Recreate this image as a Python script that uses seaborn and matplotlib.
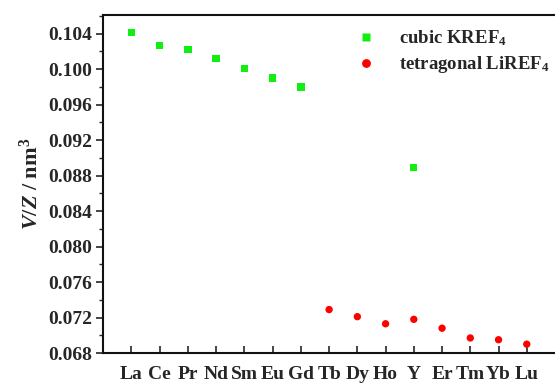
import matplotlib
matplotlib.use('Agg')
import matplotlib.pyplot as plt
import seaborn as sns
import pandas as pd
from matplotlib.ticker import MultipleLocator

# element labels along x
elements = ['La', 'Ce', 'Pr', 'Nd', 'Sm', 'Eu', 'Gd', 'Tb', 'Dy', 'Ho', 'Y', 'Er', 'Tm', 'Yb', 'Lu']

# cubic KREF4
cubic_el = ['La', 'Ce', 'Pr', 'Nd', 'Sm', 'Eu', 'Gd', 'Y']
cubic_v = [0.1041, 0.1027, 0.1022, 0.1012, 0.1001, 0.0990, 0.0980, 0.0889]

# tetragonal LiREF4
tetra_el = ['Tb', 'Dy', 'Ho', 'Y', 'Er', 'Tm', 'Yb', 'Lu']
tetra_v = [0.0729, 0.0721, 0.0713, 0.0718, 0.0708, 0.0697, 0.0695, 0.0690]

lab_cubic = r'cubic KREF$_\mathbf{4}$'
lab_tetra = r'tetragonal LiREF$_\mathbf{4}$'

df = pd.concat([
    pd.DataFrame({'el': cubic_el, 'v': cubic_v, 'phase': lab_cubic}),
    pd.DataFrame({'el': tetra_el, 'v': tetra_v, 'phase': lab_tetra}),
])
df['pos'] = [elements.index(e) for e in df['el']]

sns.set_style('ticks')
plt.rcParams['font.family'] = ['Liberation Serif', 'DejaVu Serif']
plt.rcParams['font.weight'] = 'bold'
plt.rcParams['mathtext.fontset'] = 'custom'
plt.rcParams['mathtext.rm'] = 'Liberation Serif:bold'
plt.rcParams['mathtext.bf'] = 'Liberation Serif:bold'
plt.rcParams['mathtext.it'] = 'Liberation Serif:bold:italic'

fig = plt.figure(figsize=(5.55, 3.85), dpi=100)
ax = fig.add_axes([0.186, 0.083, 0.814, 0.878])

sns.scatterplot(data=df, x='pos', y='v', hue='phase', style='phase',
                palette={lab_cubic: '#11ee11', lab_tetra: '#ff0000'},
                markers={lab_cubic: 's', lab_tetra: 'o'},
                s=28, edgecolor='none', ax=ax)

ax.set_xlim(-1, 15)
ax.set_xticks(range(len(elements)))
ax.set_xticklabels(elements, fontsize=14, fontweight='bold')
ax.yaxis.set_major_locator(MultipleLocator(0.004))
ax.yaxis.set_minor_locator(MultipleLocator(0.002))
ax.set_ylim(0.068, 0.1061)
ax.set_yticks(ax.get_yticks())
ax.set_yticklabels([f'{t:.3f}' for t in ax.get_yticks()], fontsize=14, fontweight='bold')
ax.set_ylim(0.068, 0.1061)
ax.tick_params(axis='x', direction='in', length=5, width=1.2, pad=9)
ax.tick_params(axis='y', which='major', direction='out', length=5, width=1.2, pad=3)
ax.tick_params(axis='y', which='minor', direction='out', length=3, width=1.0)
ax.set_xlabel('')
ax.set_ylabel(r'$\mathit{V/Z}$ / nm$^\mathbf{3}$', fontsize=16, fontweight='bold', labelpad=4)
for s in ['left', 'bottom', 'top']:
    ax.spines[s].set_linewidth(1.5)
    ax.spines[s].set_color('#111111')
ax.spines['right'].set_visible(False)

leg = ax.legend(loc='upper left', bbox_to_anchor=(0.51, 1.0), frameon=False,
                fontsize=13.5, handletextpad=0.8, labelspacing=0.35, markerscale=1.2,
                borderaxespad=0.3)
for t in leg.get_texts():
    t.set_fontweight('bold')

fig.savefig('out.png', dpi=100)
